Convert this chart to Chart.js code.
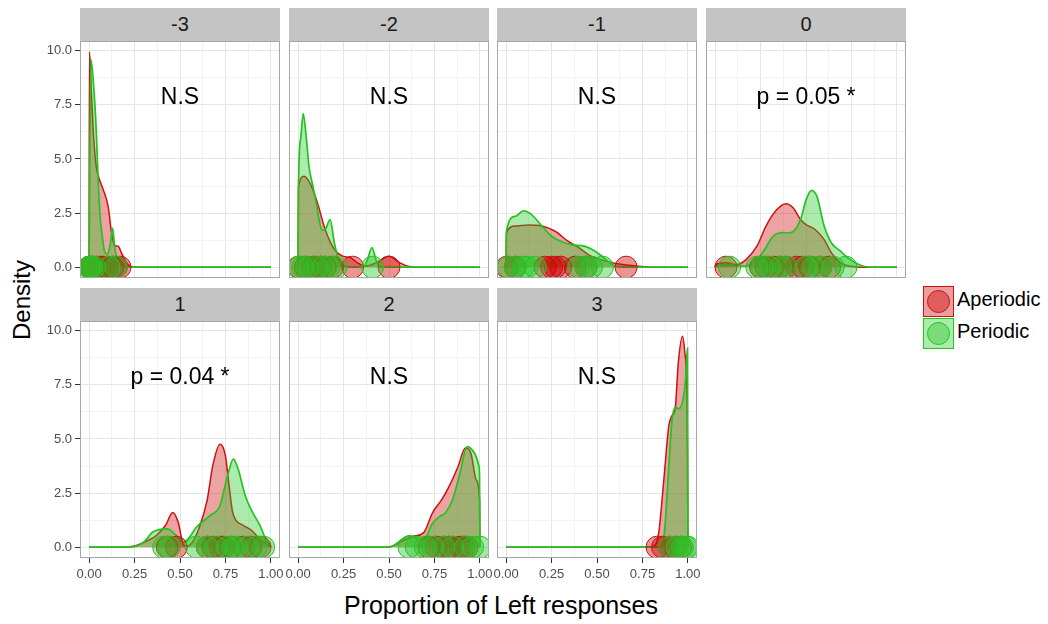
<!DOCTYPE html>
<html>
<head>
<meta charset="utf-8">
<script src="https://cdn.jsdelivr.net/npm/chart.js@4.4.1/dist/chart.umd.min.js"></script>
<style>
  body { margin: 0; background: #fff; font-family: "Liberation Sans", Arial, sans-serif; }
  #wrap { position: relative; width: 1048px; height: 624px; overflow: hidden; }
  .strip { position: absolute; background: #c4c4c4; color: #1a1a1a; font-size: 20px; text-align: center; }
  canvas { position: absolute; }
  .title { position: absolute; color: #000; white-space: nowrap; }
  .key { position: absolute; left: 923px; width: 29px; height: 29px; border: 1px solid; }
  .key span { position: absolute; left: 3px; top: 3px; width: 21px; height: 21px; border-radius: 50%; border: 1px solid; }
  .keytext { position: absolute; left: 957px; font-size: 20px; color: #000; }
</style>
</head>
<body>
<div id="wrap">
  <div class="title" style="left:0;width:1002px;text-align:center;top:591px;font-size:25px;">Proportion of Left responses</div>
  <div class="title" style="left:-28px;top:286px;width:100px;text-align:center;transform:rotate(-90deg);font-size:24px;">Density</div>

  <div class="key" style="top:286px;background:rgba(204,0,0,0.38);border-color:#cc1111;"><span style="background:rgba(204,0,0,0.4);border-color:#cc1111;"></span></div>
  <div class="keytext" style="top:288px;">Aperiodic</div>
  <div class="key" style="top:318px;background:rgba(40,200,40,0.38);border-color:#22c322;"><span style="background:rgba(40,200,40,0.4);border-color:#22c322;"></span></div>
  <div class="keytext" style="top:320px;">Periodic</div>
</div>
<script>
// ====== DATA ======
const facetLabels = ['-3', '-2', '-1', '0', '1', '2', '3'];
const facetNotes = ['N.S', 'N.S', 'N.S', 'p = 0.05 *', 'p = 0.04 *', 'N.S', 'N.S'];
const noteX = 0.5, noteY = 7.85;

const xTickVals = [0, 0.25, 0.5, 0.75, 1];
const xTickLabels = ['0.00', '0.25', '0.50', '0.75', '1.00'];
const xMinorVals = [0.125, 0.375, 0.625, 0.875];
const yTickVals = [0, 2.5, 5, 7.5, 10];
const yTickLabels = ['0.0', '2.5', '5.0', '7.5', '10.0'];
const yMinorVals = [1.25, 3.75, 6.25, 8.75];

// density curves, [proportion, density]
const aperDensM3 = [[0,0],[0.002,9.95],[0.012,8.2],[0.025,6.0],[0.04,4.6],[0.055,4.1],[0.077,3.6],[0.105,2.8],[0.123,1.6],[0.14,1.0],[0.16,0.97],[0.178,0.66],[0.206,0.2],[0.235,0.02],[0.3,0],[1,0]];
const perDensM3 = [[0,0],[0.01,9.6],[0.025,8.4],[0.04,6.2],[0.05,4.0],[0.06,2.4],[0.07,1.6],[0.086,0.7],[0.1,0.6],[0.115,1.0],[0.129,1.8],[0.14,1.0],[0.15,0.5],[0.17,0.25],[0.2,0.03],[0.25,0],[1,0]];
const aperDensM2 = [[0,0],[0.002,3.7],[0.033,4.2],[0.07,3.8],[0.107,2.96],[0.143,1.9],[0.18,1.1],[0.216,0.66],[0.25,0.5],[0.29,0.43],[0.327,0.2],[0.37,0.05],[0.43,0.2],[0.5,0.5],[0.56,0.2],[0.61,0.03],[0.65,0],[1,0]];
const perDensM2 = [[0,0],[0.002,3.7],[0.015,6.0],[0.028,7.1],[0.045,6.0],[0.06,4.65],[0.08,3.8],[0.097,3.1],[0.12,2.0],[0.134,1.7],[0.15,1.75],[0.176,2.2],[0.2,1.1],[0.226,0.28],[0.25,0.05],[0.3,0],[0.36,0.02],[0.38,0.3],[0.406,0.9],[0.43,0.3],[0.45,0.02],[0.5,0],[1,0]];
const aperDensM1 = [[0,0],[0.002,1.58],[0.05,1.9],[0.123,1.95],[0.197,1.9],[0.27,1.66],[0.34,1.2],[0.4,0.9],[0.47,0.5],[0.55,0.28],[0.64,0.12],[0.73,0.04],[0.82,0],[1,0]];
const perDensM1 = [[0,0],[0.002,1.66],[0.05,2.35],[0.096,2.6],[0.14,2.43],[0.197,1.9],[0.25,1.43],[0.3,1.2],[0.36,1.04],[0.43,0.97],[0.49,0.74],[0.55,0.35],[0.6,0.05],[0.65,0],[1,0]];
const aperDens0 = [[0,0],[0.002,0.12],[0.06,0.2],[0.12,0.12],[0.17,0.35],[0.23,0.97],[0.28,1.9],[0.34,2.66],[0.39,2.93],[0.43,2.73],[0.47,2.2],[0.5,1.97],[0.55,1.74],[0.6,1.27],[0.64,0.66],[0.69,0.2],[0.74,0.05],[0.8,0],[1,0]];
const perDens0 = [[0,0],[0.002,0.05],[0.08,0.12],[0.15,0.05],[0.21,0.2],[0.26,0.66],[0.32,1.43],[0.37,1.6],[0.41,1.58],[0.47,2.2],[0.5,3.1],[0.53,3.55],[0.56,3.27],[0.6,1.9],[0.64,1.12],[0.69,0.74],[0.73,0.43],[0.79,0.12],[0.85,0],[1,0]];
const aperDensP1 = [[0,0],[0.2,0],[0.26,0.08],[0.32,0.3],[0.37,0.54],[0.42,1.0],[0.46,1.6],[0.49,1.15],[0.52,0.1],[0.54,0.05],[0.57,0.25],[0.61,1.0],[0.65,2.2],[0.68,3.76],[0.72,4.76],[0.75,4.22],[0.77,2.84],[0.79,1.6],[0.85,1.0],[0.895,0.77],[0.92,0.54],[0.96,0.23],[1.0,0.03]];
const perDensP1 = [[0,0],[0.22,0],[0.3,0.23],[0.35,0.7],[0.43,0.85],[0.48,0.54],[0.52,0.23],[0.545,0.38],[0.59,0.92],[0.665,1.46],[0.72,1.92],[0.757,3.15],[0.794,4.07],[0.82,3.6],[0.86,2.35],[0.9,1.6],[0.94,1.0],[0.98,0.23],[0.998,0.08],[1.0,0]];
const aperDensP2 = [[0,0],[0.48,0],[0.52,0.05],[0.57,0.28],[0.63,0.5],[0.69,0.66],[0.74,1.6],[0.79,2.2],[0.83,2.8],[0.88,3.73],[0.92,4.58],[0.95,4.35],[0.98,3.1],[0.998,2.2],[1.0,0]];
const perDensP2 = [[0,0],[0.48,0],[0.52,0.05],[0.57,0.35],[0.61,0.54],[0.65,0.43],[0.69,0.35],[0.74,1.1],[0.78,1.43],[0.81,1.58],[0.85,2.2],[0.89,3.4],[0.93,4.65],[0.97,4.35],[0.995,3.73],[0.998,3.3],[1.0,0]];
const aperDensP3 = [[0,0],[0.78,0],[0.82,0.1],[0.84,0.7],[0.868,3.15],[0.895,5.6],[0.91,6.04],[0.93,6.4],[0.947,8.5],[0.97,9.75],[0.983,9.0],[0.996,6.2],[1.0,0]];
const perDensP3 = [[0,0],[0.83,0],[0.86,0.08],[0.877,1.3],[0.895,3.76],[0.913,5.9],[0.93,6.45],[0.95,6.4],[0.97,6.7],[0.987,7.73],[0.998,9.2],[1.0,0]];

const aperDens = [aperDensM3, aperDensM2, aperDensM1, aperDens0, aperDensP1, aperDensP2, aperDensP3];
const perDens = [perDensM3, perDensM2, perDensM1, perDens0, perDensP1, perDensP2, perDensP3];

// individual proportions (drawn at density 0)
const aperPts = [
    [0, 0.01, 0.02, 0.04, 0.06, 0.08, 0.1, 0.13, 0.15, 0.17],
    [0.005, 0.04, 0.08, 0.1, 0.125, 0.15, 0.19, 0.3, 0.5],
    [0.004, 0.05, 0.215, 0.25, 0.27, 0.3, 0.38, 0.44, 0.66],
    [0.06, 0.25, 0.28, 0.32, 0.36, 0.39, 0.45, 0.48, 0.52, 0.58, 0.63],
    [0.43, 0.48, 0.65, 0.68, 0.72, 0.74, 0.78, 0.85, 0.89, 0.94],
    [0.72, 0.76, 0.8, 0.83, 0.85, 0.89, 0.91, 0.93],
    [0.83, 0.86, 0.9, 0.93, 0.96]
];
const perPts = [
    [0, 0.005, 0.015, 0.03, 0.11, 0.15],
    [0, 0.025, 0.05, 0.1, 0.135, 0.17, 0.21, 0.41],
    [0.013, 0.05, 0.095, 0.115, 0.16, 0.4, 0.44, 0.47, 0.53],
    [0.08, 0.23, 0.26, 0.3, 0.36, 0.39, 0.5, 0.54, 0.58, 0.65, 0.72],
    [0.41, 0.44, 0.59, 0.65, 0.7, 0.76, 0.79, 0.81, 0.87, 0.92, 0.96],
    [0.61, 0.65, 0.7, 0.74, 0.8, 0.85, 0.92, 0.96, 1.0],
    [0.9, 0.94, 0.97, 0.99, 1.0]
];

// ====== STYLE ======
const RED = '#cc1111', GREEN = '#22c322';
const RED_FILL = 'rgba(204,0,0,0.36)', GREEN_FILL = 'rgba(40,200,40,0.38)';
const RED_PT = 'rgba(204,0,0,0.42)', GREEN_PT = 'rgba(40,200,40,0.42)';
const FONT = '"Liberation Sans", Arial, sans-serif';
const PANEL_W = 200, PANEL_H = 237, STRIP_H = 33;
const ROW_TOPS = [41, 321];

const isIn = (arr, v) => arr.some(a => Math.abs(a - v) < 1e-9);

// border + annotation text
const panelDeco = {
    id: 'panelDeco',
    afterDatasetsDraw(chart, args, opts) {
        const { ctx, chartArea: a, scales } = chart;
        ctx.save();
        ctx.font = '23px ' + FONT;
        ctx.fillStyle = '#000';
        ctx.textAlign = 'center';
        ctx.textBaseline = 'middle';
        ctx.fillText(opts.note, scales.x.getPixelForValue(noteX), scales.y.getPixelForValue(noteY));
        ctx.strokeStyle = '#a6a6a6';
        ctx.lineWidth = 1;
        ctx.strokeRect(a.left + 0.5, a.top + 0.5, a.width - 1, a.height - 1);
        ctx.restore();
    }
};

function makePanel(i) {
    const wrap = document.getElementById('wrap');
    const col = i % 4, row = Math.floor(i / 4);
    const showY = col === 0;
    const showX = row === 1;
    const left = Math.round(80 + col * 208.6);
    const top = ROW_TOPS[row];
    const axisW = showY ? 50 : 0;
    const axisH = showX ? 32 : 0;
    const M = 14;

    const strip = document.createElement('div');
    strip.className = 'strip';
    strip.style.left = left + 'px';
    strip.style.top = (top - STRIP_H) + 'px';
    strip.style.width = PANEL_W + 'px';
    strip.style.height = STRIP_H + 'px';
    strip.style.lineHeight = STRIP_H + 'px';
    strip.textContent = facetLabels[i];
    wrap.appendChild(strip);

    const cv = document.createElement('canvas');
    const w = PANEL_W + axisW + 2 * M, h = PANEL_H + axisH;
    cv.width = w; cv.height = h;
    cv.style.width = w + 'px'; cv.style.height = h + 'px';
    cv.style.left = (left - axisW - M) + 'px';
    cv.style.top = top + 'px';
    wrap.appendChild(cv);

    const toXY = arr => arr.map(p => ({ x: p[0], y: p[1] }));
    const toPts = arr => arr.map(v => ({ x: v, y: 0 }));

    new Chart(cv.getContext('2d'), {
        type: 'line',
        data: {
            datasets: [
                { data: toPts(perPts[i]), showLine: false, pointRadius: 11, pointBackgroundColor: GREEN_PT, pointBorderColor: GREEN, pointBorderWidth: 1, order: 1 },
                { data: toPts(aperPts[i]), showLine: false, pointRadius: 11, pointBackgroundColor: RED_PT, pointBorderColor: RED, pointBorderWidth: 1, order: 2 },
                { data: toXY(perDens[i]), borderColor: GREEN, backgroundColor: GREEN_FILL, borderWidth: 1.7, fill: 'origin', pointRadius: 0, cubicInterpolationMode: 'monotone', order: 3 },
                { data: toXY(aperDens[i]), borderColor: RED, backgroundColor: RED_FILL, borderWidth: 1.5, fill: 'origin', pointRadius: 0, cubicInterpolationMode: 'monotone', order: 4 }
            ]
        },
        options: {
            responsive: false,
            animation: false,
            events: [],
            layout: { autoPadding: false, padding: { left: M, right: M, top: 0, bottom: 0 } },
            plugins: { legend: { display: false }, tooltip: { enabled: false }, panelDeco: { note: facetNotes[i] } },
            scales: {
                x: {
                    type: 'linear', min: -0.05, max: 1.05,
                    afterBuildTicks: s => { s.ticks = xTickVals.concat(xMinorVals).sort((a, b) => a - b).map(v => ({ value: v })); },
                    afterFit: s => { s.height = axisH; s.paddingLeft = 0; s.paddingRight = 0; },
                    border: { display: false },
                    grid: {
                        color: c => isIn(xTickVals, c.tick.value) ? '#e6e6e6' : '#f3f3f3',
                        lineWidth: 1,
                        drawTicks: showX, tickLength: 5, tickWidth: 1,
                        tickColor: c => isIn(xTickVals, c.tick.value) ? '#333' : 'rgba(0,0,0,0)'
                    },
                    ticks: {
                        display: showX, autoSkip: false, maxRotation: 0, padding: 4,
                        color: '#4d4d4d', font: { family: FONT, size: 13 },
                        callback: v => { const k = xTickVals.findIndex(t => Math.abs(t - v) < 1e-9); return k >= 0 ? xTickLabels[k] : ''; }
                    }
                },
                y: {
                    type: 'linear', min: -0.5, max: 10.45,
                    afterBuildTicks: s => { s.ticks = yTickVals.concat(yMinorVals).sort((a, b) => a - b).map(v => ({ value: v })); },
                    afterFit: s => { s.width = axisW; s.paddingTop = 0; s.paddingBottom = 0; },
                    border: { display: false },
                    grid: {
                        color: c => isIn(yTickVals, c.tick.value) ? '#e6e6e6' : '#f3f3f3',
                        lineWidth: 1,
                        drawTicks: showY, tickLength: 5, tickWidth: 1,
                        tickColor: c => isIn(yTickVals, c.tick.value) ? '#333' : 'rgba(0,0,0,0)'
                    },
                    ticks: {
                        display: showY, autoSkip: false, padding: 3,
                        color: '#4d4d4d', font: { family: FONT, size: 13 },
                        callback: v => { const k = yTickVals.findIndex(t => Math.abs(t - v) < 1e-9); return k >= 0 ? yTickLabels[k] : ''; }
                    }
                }
            }
        },
        plugins: [panelDeco]
    });
}

document.addEventListener('DOMContentLoaded', function () {
    facetLabels.forEach((_, i) => makePanel(i));
});
</script>
</body>
</html>
